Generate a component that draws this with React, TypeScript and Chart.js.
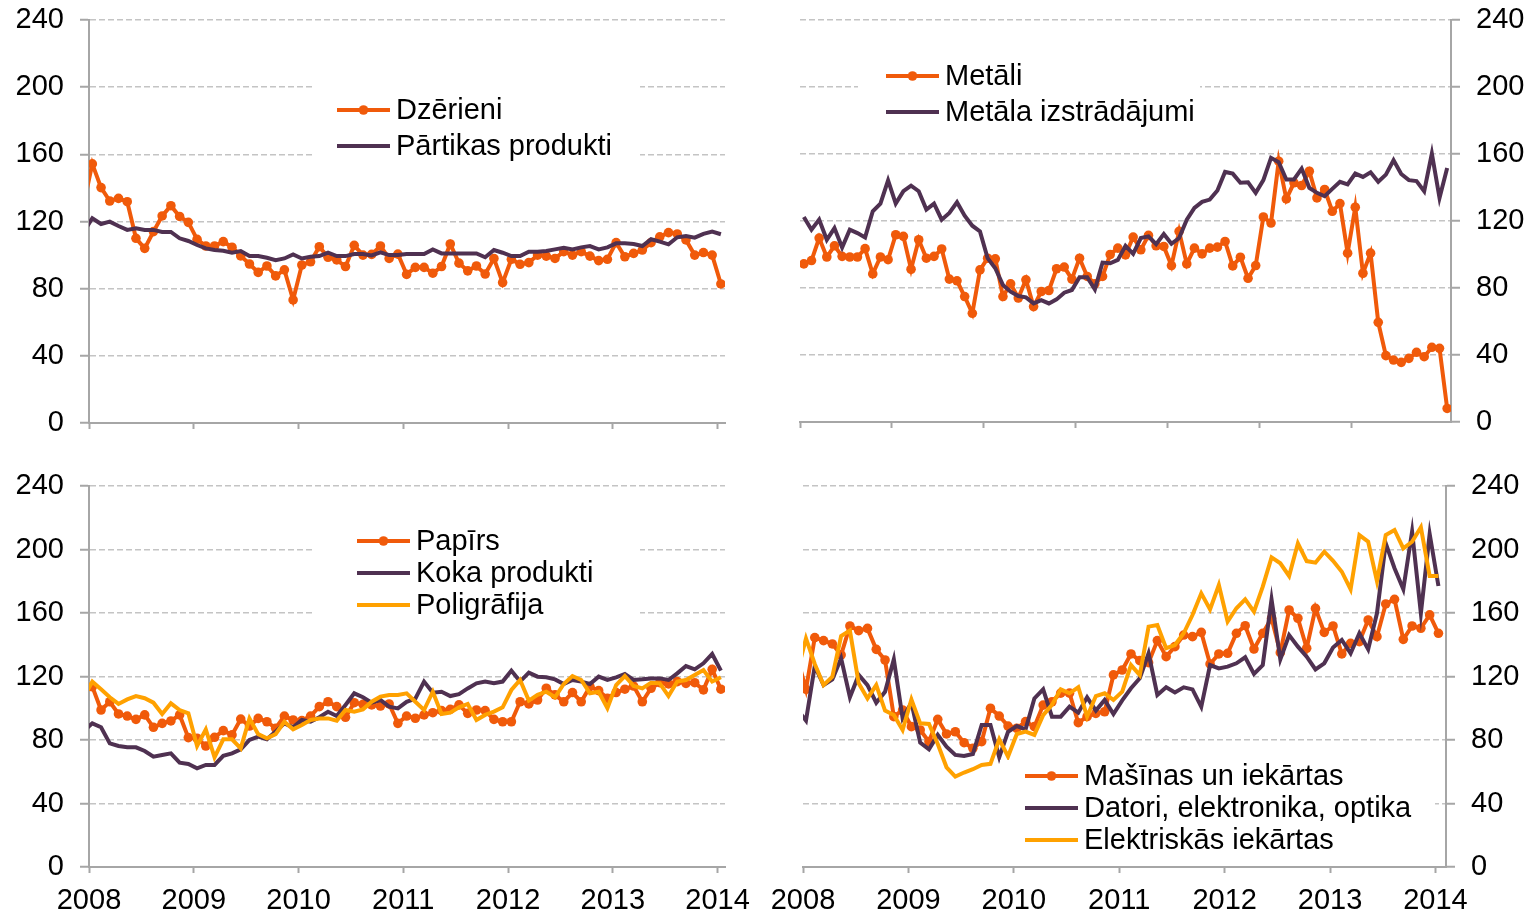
import React, { useEffect, useRef } from 'react';
import { Chart, registerables } from 'chart.js';

Chart.register(...registerables);

// ---------- tick labels ----------
const yearLabels = ['2008', '2009', '2010', '2011', '2012', '2013', '2014'];
const yTickValues = [0, 40, 80, 120, 160, 200, 240];
const monthTicks = [0, 12, 24, 36, 48, 60, 72];
const trTicks = [0, 12, 24, 36, 48, 60, 72, 84];

// ---------- top-left: Dec 2007 .. Jan 2014 (monthly) ----------
const dzerieni = [130, 154.3, 140.2, 132.2, 133.8, 131.8, 110, 104, 114, 123.3, 129.4, 123, 119.5, 109.4, 105.4, 105.4, 108, 104.7, 99.5, 94.7, 89.7, 93.5, 87.6, 91.2, 73.3, 94.1, 96, 105, 98.7, 97.1, 93.2, 105.8, 100, 100.4, 105.4, 98, 100.6, 88.5, 92.7, 92.7, 89.2, 93.2, 106.6, 95.2, 90.6, 93.5, 88.7, 98, 83.6, 97.5, 94.5, 95.5, 100, 99.4, 98, 102, 100, 102, 99.4, 96.7, 97.5, 107.4, 99, 101, 103, 107.4, 110.9, 113.4, 112.6, 109, 100, 101.5, 100, 82.8];
const partikas = [113.6, 121.9, 118.5, 119.9, 117.3, 115, 116, 115, 115, 113.8, 113.8, 110, 108.4, 106, 104, 103, 102.6, 101.4, 102.4, 99.4, 99.4, 98.4, 97, 98, 100.4, 98, 99, 99.4, 101.4, 99.4, 99.4, 100.6, 100.6, 99.8, 101.6, 100, 100, 100.6, 100.6, 100.6, 103.4, 101, 101, 101, 101, 101, 98.7, 103, 101.4, 99.4, 99.4, 102, 102, 102.4, 103.4, 104.4, 103.4, 104.6, 105.4, 103.4, 104.6, 107, 107, 106.6, 105.4, 109.4, 108, 106.4, 110.6, 111.4, 110.4, 112.6, 114, 112.4];

// ---------- top-right: 85 monthly points ----------
const metali = [94.4, 96.4, 109.8, 98.5, 105.2, 98.9, 98.5, 98.5, 103.5, 88.4, 98.5, 96.9, 111.8, 110.8, 91.2, 108.8, 97.8, 98.9, 103.3, 85.3, 84.3, 74.9, 64.9, 90.8, 97.8, 97.4, 74.9, 82.5, 74, 84.9, 68.9, 77.9, 78.5, 91.5, 92.5, 85.3, 97.8, 86.9, 82.5, 86.9, 100, 103.8, 99.8, 110.4, 102.8, 111.4, 105.2, 104.8, 93.4, 113.8, 94.4, 103.8, 100.4, 103.8, 104.4, 107.8, 93.2, 98.4, 85.8, 93.4, 122.4, 118.8, 155.7, 133.2, 142.8, 141.2, 149.7, 133.8, 138.8, 125.8, 130.4, 100.8, 128.2, 88.8, 100.8, 59.5, 39.6, 37, 35.6, 38, 41.6, 39, 44.6, 44, 8.1];
const metalaIzstr = [122.4, 114.8, 120.8, 108.8, 115.8, 104.2, 114.8, 112.8, 110.2, 125.8, 130.4, 144.3, 130.4, 137.8, 141.1, 137.8, 126.8, 130.4, 120.8, 124.8, 131.2, 123.2, 117.2, 113.8, 97.8, 91.8, 81.8, 77.8, 75.2, 74.4, 70.8, 72.8, 70.8, 73.2, 77.2, 78.8, 86.4, 86.4, 79.2, 95.2, 94.8, 96.8, 105.2, 100.4, 109.8, 110.8, 106.2, 112.2, 106.4, 109.8, 120.8, 127.8, 131.4, 132.8, 138.2, 149.3, 148.3, 142.8, 143.1, 136.8, 144.4, 157.7, 155.1, 144.8, 144.8, 151.3, 139.8, 136.8, 134.8, 139.2, 143.4, 141.8, 148.3, 146.3, 149.1, 143.4, 147.7, 156.3, 148.1, 144.4, 143.8, 137.8, 160.3, 133.8, 151.7];

// ---------- bottom-left: Dec 2007 .. Jan 2014 ----------
const papirs = [110.3, 113.6, 98.9, 104.1, 96.4, 95.1, 93, 95.8, 88, 90.5, 92, 95.8, 81.5, 81.1, 76.2, 81.7, 85.9, 83.2, 93.2, 88.8, 93.6, 91.5, 87.4, 95.1, 92.6, 92.2, 95.1, 101, 104.1, 101, 94.3, 103.5, 102.5, 102.1, 101.4, 102.7, 90.5, 95.1, 93.7, 95.8, 97.2, 98.5, 99.3, 102.1, 96.8, 98.9, 98.5, 93, 91.5, 91.5, 104.1, 102.7, 105.2, 112.6, 108.4, 104.1, 109.9, 104.1, 113.6, 111.1, 106.3, 109.9, 112, 114, 104.1, 112.6, 116.1, 115.3, 116.8, 115.7, 116.1, 111.6, 124.5, 112];
const kokaProdukti = [85.7, 90.5, 88, 77.9, 76.2, 75.4, 75.4, 73.1, 69.5, 70.6, 71.6, 65.7, 64.9, 62.2, 64.3, 64.3, 70, 71.6, 74.1, 80, 82.1, 80.4, 85.3, 90.5, 88, 92.6, 91.5, 94.3, 97.8, 95.1, 102.1, 109.4, 106.9, 103.5, 105.2, 101, 99.9, 104, 106, 116.8, 109.8, 110.4, 107.7, 108.9, 112.5, 115.7, 116.8, 115.7, 116.8, 123.7, 116.8, 122.4, 119.9, 119.5, 118.2, 115.3, 117.8, 116.8, 115.3, 119.9, 117.8, 119.5, 121.6, 117.8, 118.2, 118.8, 118.8, 117.8, 122, 126.6, 124.5, 128.3, 134.2, 123.7];
const poligrafija = [107, 116.7, 111.9, 106.9, 102.7, 105.6, 107.7, 106.3, 103.5, 96.4, 103.1, 98.9, 96.8, 76.2, 86.7, 69.1, 80.4, 80.4, 74.7, 93.6, 83.7, 81.1, 83.7, 91.5, 86.7, 89.4, 92.6, 93.6, 93.6, 92.2, 98.9, 97.8, 99.3, 104.1, 107.3, 108.4, 108.4, 109.4, 104.1, 98.9, 110.4, 96.4, 97.2, 100.6, 102.7, 92.6, 95.8, 97.9, 100.6, 111.5, 117.8, 104.8, 108.4, 110.4, 106.9, 115.3, 120.3, 117.8, 109.4, 110.4, 100, 114.6, 120.3, 114, 112.5, 116.1, 115.7, 107.7, 116.8, 117.8, 121, 124.1, 116.8, 119.5];

// ---------- bottom-right: Dec 2007 .. Jan 2014 ----------
const masinas = [132, 111.9, 144.5, 142.6, 140.5, 133.6, 151.8, 148.9, 150.3, 137.1, 130.4, 94.7, 98.9, 88.4, 86.3, 79, 93, 83.8, 85.2, 78.3, 74.8, 79, 100, 95.1, 88.8, 87.4, 91.6, 88.4, 102, 104.1, 109.5, 109.5, 90.9, 94.7, 96.8, 97.8, 121, 124.1, 134.2, 130, 128.7, 142.6, 132.5, 138.8, 146.1, 145.1, 147.8, 127.9, 134.2, 134.6, 147.2, 152, 137.3, 147.2, 156.7, 135, 161.9, 156.7, 137.8, 162.9, 147.8, 151.8, 134.2, 140.9, 142, 155.6, 145.1, 165.7, 168.6, 143.4, 151.8, 150.4, 158.8, 147.2];
const datori = [99.5, 92.2, 126.6, 114.6, 118.2, 131.5, 107, 121, 114.6, 103.5, 110.4, 130.8, 93.7, 103.5, 78.3, 74.1, 83.2, 75.8, 70.6, 69.9, 71.2, 89.5, 89.5, 69.1, 85.2, 88.8, 86.7, 106.2, 111.9, 94.7, 94.7, 101, 97.2, 106.9, 98.5, 105.2, 96.4, 105, 112.6, 118.9, 134.6, 108.4, 113.2, 109.9, 113.2, 111.9, 100.9, 127.2, 125.1, 126.2, 128.3, 132.1, 121.6, 127.2, 168.6, 130.8, 146.1, 138.8, 132.5, 124.5, 128.3, 138.2, 143, 134.6, 147.2, 137.1, 159.8, 203.9, 188.2, 175, 211.3, 159.8, 209.8, 177];
const elektriskas = [122.6, 144, 127.9, 114.6, 119.9, 145.5, 148.9, 115.7, 106.2, 114.6, 98.5, 95.7, 86.3, 105.6, 90.5, 90.1, 77.5, 62.8, 57, 59.5, 61.6, 64.3, 65, 80.5, 69.6, 83.8, 85.3, 83.2, 95.7, 102.1, 111.9, 109.4, 113.2, 94.7, 107.7, 109.4, 105.2, 110.4, 127.2, 120.9, 151.4, 152.4, 137.8, 139.8, 147.2, 158.7, 172.4, 162.3, 177.6, 154.6, 163, 168.6, 160.8, 176.6, 195, 191.3, 183.3, 203.9, 192.7, 191.7, 198.6, 192.9, 186, 174.9, 209.1, 204.9, 180.1, 209.1, 212.3, 200.7, 204.9, 214, 183.3, 183.3];

// ---------- styles ----------
const ORANGE = '#F05A0A';
const PURPLE = '#4F3151';
const YELLOW = '#FFA100';
const AXIS = '#A6A6A6';
const GRID = '#C4C4C4';
const FONT = '"Liberation Sans", Arial, sans-serif';
const FONT_SIZE = 29;

type Series = { label: string; values: number[]; color: string; marker: boolean };

function toPoints(values: number[], start: number) {
  return values.map((v, k) => ({ x: start + k, y: v }));
}

function makeLegendPlugin(cfg: any) {
  return {
    id: 'boxLegend',
    afterDraw(chart: any) {
      const ctx = chart.ctx as CanvasRenderingContext2D;
      ctx.save();
      ctx.fillStyle = '#ffffff';
      ctx.fillRect(cfg.box[0], cfg.box[1], cfg.box[2], cfg.box[3]);
      cfg.items.forEach((it: Series, k: number) => {
        const y = cfg.y + k * cfg.rowH;
        ctx.strokeStyle = it.color;
        ctx.lineWidth = 4;
        ctx.setLineDash([]);
        ctx.beginPath();
        ctx.moveTo(cfg.x, y);
        ctx.lineTo(cfg.x + 53, y);
        ctx.stroke();
        if (it.marker) {
          ctx.fillStyle = it.color;
          ctx.beginPath();
          ctx.arc(cfg.x + 26.5, y, 4.8, 0, Math.PI * 2);
          ctx.fill();
        }
        ctx.fillStyle = '#000000';
        ctx.font = `${FONT_SIZE}px ${FONT}`;
        ctx.textBaseline = 'middle';
        ctx.textAlign = 'left';
        ctx.fillText(it.label, cfg.x + 59, y + 1);
      });
      ctx.restore();
    },
  };
}

type PanelProps = {
  left: number; top: number; width: number; height: number;
  pad: { left: number; right: number; top: number };
  yWidth: number; xHeight: number; yPos: 'left' | 'right';
  xMax: number; xTicks: number[]; showX: boolean;
  start: number; series: Series[]; legend: any;
};

function zeroPad(s: any) {
  s.paddingTop = 0;
  s.paddingBottom = 0;
  s.paddingLeft = 0;
  s.paddingRight = 0;
}

function Panel(p: PanelProps) {
  const ref = useRef<HTMLCanvasElement>(null);
  useEffect(() => {
    const font = { family: FONT, size: FONT_SIZE };
    const n = p.series.length;
    const chart = new Chart(ref.current as HTMLCanvasElement, {
      type: 'line',
      data: {
        datasets: p.series.map((s, k) => ({
          label: s.label,
          data: toPoints(s.values, p.start),
          borderColor: s.color,
          backgroundColor: s.color,
          borderWidth: 4,
          pointRadius: s.marker ? 4.8 : 0,
          pointBorderWidth: 0,
          pointBackgroundColor: s.color,
          tension: 0,
          order: n - k,
        })),
      },
      options: {
        responsive: false,
        animation: false,
        devicePixelRatio: 1,
        layout: { padding: { left: p.pad.left, right: p.pad.right, top: p.pad.top, bottom: 0 } },
        plugins: { legend: { display: false }, tooltip: { enabled: false } },
        scales: {
          x: {
            type: 'linear',
            min: 0,
            max: p.xMax,
            afterBuildTicks: (s: any) => { s.ticks = p.xTicks.map((v) => ({ value: v })); },
            afterFit: (s: any) => { s.height = p.xHeight; zeroPad(s); },
            grid: { drawOnChartArea: false, drawTicks: true, tickLength: 6, tickColor: AXIS, tickWidth: 2 },
            border: { display: true, color: AXIS, width: 2 },
            ticks: {
              display: p.showX,
              padding: 11,
              color: '#000',
              font,
              autoSkip: false,
              maxRotation: 0,
              callback: (_v: any, i: number) => yearLabels[i],
            },
          },
          y: {
            type: 'linear',
            position: p.yPos,
            min: 0,
            max: 240,
            afterBuildTicks: (s: any) => { s.ticks = yTickValues.map((v) => ({ value: v })); },
            afterFit: (s: any) => { s.width = p.yWidth; zeroPad(s); },
            grid: { color: GRID, lineWidth: 1.5, drawTicks: true, tickLength: 9, tickColor: AXIS, tickWidth: 2, tickBorderDash: [] },
            border: { display: true, color: AXIS, width: 2, dash: [6, 3] },
            ticks: { padding: 16, color: '#000', font },
          },
        },
      } as any,
      plugins: [makeLegendPlugin(p.legend)],
    });
    return () => chart.destroy();
  }, []);
  return (
    <canvas
      ref={ref}
      width={p.width}
      height={p.height}
      style={{ position: 'absolute', left: p.left, top: p.top, width: p.width, height: p.height }}
    />
  );
}

export default function App() {
  const tl: Series[] = [
    { label: 'Dzērieni', values: dzerieni, color: ORANGE, marker: true },
    { label: 'Pārtikas produkti', values: partikas, color: PURPLE, marker: false },
  ];
  const tr: Series[] = [
    { label: 'Metāli', values: metali, color: ORANGE, marker: true },
    { label: 'Metāla izstrādājumi', values: metalaIzstr, color: PURPLE, marker: false },
  ];
  const bl: Series[] = [
    { label: 'Papīrs', values: papirs, color: ORANGE, marker: true },
    { label: 'Koka produkti', values: kokaProdukti, color: PURPLE, marker: false },
    { label: 'Poligrāfija', values: poligrafija, color: YELLOW, marker: false },
  ];
  const br: Series[] = [
    { label: 'Mašīnas un iekārtas', values: masinas, color: ORANGE, marker: true },
    { label: 'Datori, elektronika, optika', values: datori, color: PURPLE, marker: false },
    { label: 'Elektriskās iekārtas', values: elektriskas, color: YELLOW, marker: false },
  ];
  return (
    <div style={{ position: 'absolute', left: 0, top: 0, width: 1534, height: 915, overflow: 'hidden', background: '#fff' }}>
      <Panel
        left={0} top={0} width={770} height={460}
        pad={{ left: 0, right: 45, top: 20 }} yWidth={89} xHeight={37} yPos="left"
        xMax={72.85} xTicks={monthTicks} showX={false} start={-0.62} series={tl}
        legend={{ box: [312, 78, 328, 88], x: 337, y: 110, rowH: 36, items: tl }}
      />
      <Panel
        left={760} top={0} width={774} height={460}
        pad={{ left: 40, right: 0, top: 20 }} yWidth={83} xHeight={38} yPos="right"
        xMax={85} xTicks={trTicks} showX={false} start={0.5} series={tr}
        legend={{ box: [98, 48, 342, 87], x: 126, y: 76, rowH: 36, items: tr }}
      />
      <Panel
        left={0} top={460} width={770} height={455}
        pad={{ left: 0, right: 45, top: 26 }} yWidth={89} xHeight={48} yPos="left"
        xMax={72.85} xTicks={monthTicks} showX={true} start={-0.62} series={bl}
        legend={{ box: [312, 62, 328, 106], x: 357, y: 81, rowH: 32, items: bl }}
      />
      <Panel
        left={740} top={460} width={794} height={455}
        pad={{ left: 63, right: 0, top: 26 }} yWidth={88} xHeight={48} yPos="right"
        xMax={73.2} xTicks={monthTicks} showX={true} start={-0.66} series={br}
        legend={{ box: [260, 300, 435, 98], x: 285, y: 316, rowH: 32, items: br }}
      />
    </div>
  );
}
